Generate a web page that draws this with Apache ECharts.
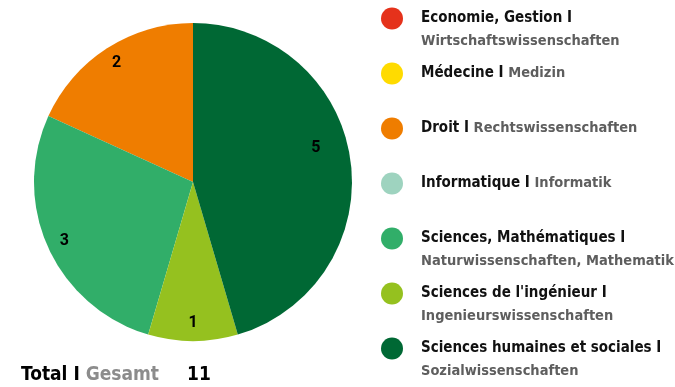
<!DOCTYPE html>
<html>
<head>
<meta charset="utf-8">
<script src="https://cdn.jsdelivr.net/npm/echarts@6/dist/echarts.min.js"></script>
<style>
  html, body { margin: 0; padding: 0; background: #fff; }
  #chart { width: 675px; height: 387px; }
</style>
</head>
<body>
<div id="chart"></div>
<script>
// Faculties: French name, German name, count
const namesFr = [
  'Economie, Gestion',
  'Médecine',
  'Droit',
  'Informatique',
  'Sciences, Mathématiques',
  "Sciences de l'ingénieur",
  'Sciences humaines et sociales'
];
const namesDe = [
  'Wirtschaftswissenschaften',
  'Medizin',
  'Rechtswissenschaften',
  'Informatik',
  'Naturwissenschaften, Mathematik',
  'Ingenieurswissenschaften',
  'Sozialwissenschaften'
];
// German name goes on its own line for these entries
const deOnNewLine = [true, false, false, false, true, true, true];
const counts = [0, 0, 2, 0, 3, 1, 5];
const colors = ['#E5321B', '#FFDB00', '#EF7D00', '#9ED3BF', '#31AE69', '#95C11F', '#006834'];
const totalLabel = ['Total I ', 'Gesamt'];

const FONT = '"DejaVu Sans Condensed", "Liberation Sans Narrow", sans-serif';
const total = counts.reduce((a, b) => a + b, 0);

const data = namesFr.map((n, i) => ({
  name: n,
  value: counts[i],
  itemStyle: { color: colors[i] }
}));

// value labels: the largest slice's label sits a little higher
const labelData = namesFr.map((n, i) => {
  const d = { name: n, value: counts[i] };
  if (i === 6) d.label = { offset: [-17, -14] };
  return d;
});

const chart = echarts.init(document.getElementById('chart'), null, { renderer: 'canvas' });

const R = 159;
const CENTER = [193, 182];

chart.setOption({
  animation: false,
  backgroundColor: '#ffffff',
  title: {
    left: 16,
    top: 361,
    text: '{k|' + totalLabel[0] + '}{g|' + totalLabel[1] + '}{n|' + total + '}',
    textStyle: {
      rich: {
        k: { fontFamily: FONT, fontWeight: 'bold', fontSize: 19, color: '#000' },
        g: { fontFamily: FONT, fontWeight: 'bold', fontSize: 19, color: '#8C8C8C' },
        n: { fontFamily: FONT, fontWeight: 'bold', fontSize: 19, color: '#000', padding: [0, 0, 0, 28] }
      }
    }
  },
  legend: {
    orient: 'vertical',
    left: 376,
    top: -21,
    height: 600,
    itemWidth: 22,
    itemHeight: 22,
    itemGap: -14,
    icon: 'circle',
    selectedMode: false,
    data: namesFr,
    formatter: function (name) {
      const i = namesFr.indexOf(name);
      if (deOnNewLine[i]) {
        return '{b|' + namesFr[i] + ' I}\n{g|' + namesDe[i] + '}';
      }
      return '{b|' + namesFr[i] + ' I }{g|' + namesDe[i] + '}\n{g| }';
    },
    textStyle: {
      padding: [23, 0, 0, 13],
      lineHeight: 23,
      rich: {
        b: { fontFamily: FONT, fontWeight: 'bold', fontSize: 15, color: '#111', lineHeight: 23 },
        g: { fontFamily: FONT, fontWeight: 'bold', fontSize: 14.5, color: '#5E5E5E', lineHeight: 23 }
      }
    }
  },
  series: [
    {
      type: 'pie',
      center: CENTER,
      radius: [0, R],
      startAngle: 90,
      clockwise: false,
      label: { show: false },
      labelLine: { show: false },
      emphasis: { disabled: true },
      itemStyle: { borderWidth: 0 },
      data: data
    },
    {
      // transparent ring carrying the value labels further out than mid-radius
      type: 'pie',
      center: CENTER,
      radius: [R * 0.74, R],
      startAngle: 90,
      clockwise: false,
      silent: true,
      itemStyle: { color: 'transparent' },
      emphasis: { disabled: true },
      labelLine: { show: false },
      label: {
        show: true,
        position: 'inside',
        fontFamily: 'Roboto, sans-serif',
        fontSize: 16,
        fontWeight: 'bold',
        color: '#000',
        formatter: p => (p.value ? String(p.value) : '')
      },
      data: labelData
    }
  ]
});
</script>
</body>
</html>
